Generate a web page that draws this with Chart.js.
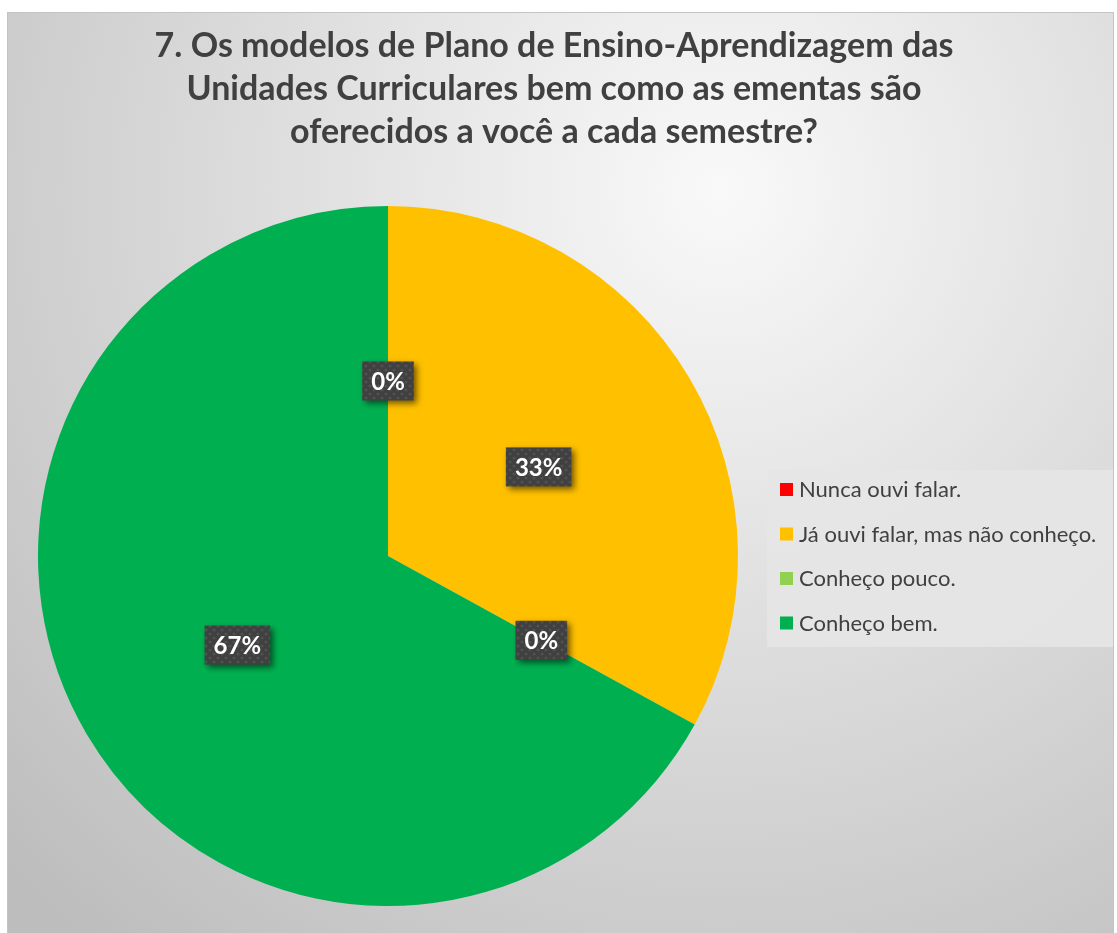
<!DOCTYPE html>
<html>
<head>
<meta charset="utf-8">
<script src="https://cdn.jsdelivr.net/npm/chart.js@4"></script>
<style>
  body { margin: 0; background: #fff; }
  #chartBox { position: absolute; left: 0; top: 0; width: 1117px; height: 933px; }
</style>
</head>
<body>
<div id="chartBox"><canvas id="pieChart" width="1117" height="933"></canvas></div>
<script>
// chart data
const titleLines = [
  '7. Os modelos de Plano de Ensino-Aprendizagem das',
  'Unidades Curriculares bem como as ementas são',
  'oferecidos a você a cada semestre?'
];
const answers = ['Nunca ouvi falar.', 'Já ouvi falar, mas não conheço.', 'Conheço pouco.', 'Conheço bem.'];
const percents = [0, 33, 0, 67];
const sliceColors = ['#FF0000', '#FFC000', '#92D050', '#00B050'];

const FONT = 'Lato, "Open Sans", sans-serif';

// background, frame and title
const framePlugin = {
  id: 'frame',
  beforeDraw(chart) {
    const ctx = chart.ctx;
    ctx.save();
    const g = ctx.createRadialGradient(720, 190, 0, 720, 190, 980);
    g.addColorStop(0, '#f9f9f9');
    g.addColorStop(1, '#bdbdbd');
    ctx.fillStyle = g;
    ctx.fillRect(8, 13, 1105, 925);
    ctx.strokeStyle = '#c4c4c4';
    ctx.lineWidth = 1;
    ctx.strokeRect(7.5, 12.5, 1106, 930);

    ctx.fillStyle = '#404040';
    ctx.font = 'bold 34px ' + FONT;
    ctx.textAlign = 'center';
    ctx.textBaseline = 'middle';
    titleLines.forEach((line, i) => {
      ctx.fillText(line, 554, 46 + i * 43);
    });
    ctx.restore();
  }
};

// small dotted pattern for the label boxes
function makePattern(ctx) {
  const c = document.createElement('canvas');
  c.width = 8; c.height = 8;
  const p = c.getContext('2d');
  p.fillStyle = '#404040';
  p.fillRect(0, 0, 8, 8);
  p.fillStyle = 'rgba(255,255,255,0.09)';
  p.beginPath(); p.arc(2, 2, 1.6, 0, Math.PI * 2); p.fill();
  p.beginPath(); p.arc(6, 6, 1.6, 0, Math.PI * 2); p.fill();
  return ctx.createPattern(c, 'repeat');
}

// percentage labels and the legend box
const labelPlugin = {
  id: 'sliceLabels',
  afterDraw(chart) {
    const ctx = chart.ctx;
    const meta = chart.getDatasetMeta(0);
    const pattern = makePattern(ctx);
    ctx.save();
    ctx.font = 'bold 24px ' + FONT;
    ctx.textAlign = 'center';
    ctx.textBaseline = 'middle';
    meta.data.forEach((arc, i) => {
      const pos = arc.tooltipPosition();
      const text = percents[i] + '%';
      const w = ctx.measureText(text).width + 18;
      const h = 39;
      ctx.save();
      ctx.shadowColor = 'rgba(0,0,0,0.55)';
      ctx.shadowBlur = 6;
      ctx.shadowOffsetX = 3;
      ctx.shadowOffsetY = 3;
      ctx.fillStyle = pattern;
      ctx.fillRect(pos.x - w / 2, pos.y - h / 2, w, h);
      ctx.restore();
      ctx.fillStyle = '#ffffff';
      ctx.fillText(text, pos.x, pos.y + 1);
    });

    // legend
    ctx.fillStyle = 'rgba(230,230,230,0.9)';
    ctx.fillRect(767, 470, 346, 177);
    ctx.font = '22px ' + FONT;
    ctx.textAlign = 'left';
    answers.forEach((name, i) => {
      const y = 490 + i * 44.5;
      ctx.fillStyle = sliceColors[i];
      ctx.fillRect(780, y - 7, 13, 13);
      ctx.fillStyle = '#404040';
      ctx.fillText(name, 799, y);
    });
    ctx.restore();
  }
};

new Chart(document.getElementById('pieChart'), {
  type: 'pie',
  data: {
    labels: answers,
    datasets: [{
      data: percents,
      backgroundColor: sliceColors,
      borderWidth: 0
    }]
  },
  options: {
    responsive: false,
    animation: false,
    layout: { padding: { left: 38, right: 379, top: 206, bottom: 27 } },
    plugins: {
      legend: { display: false },
      title: { display: false },
      tooltip: { enabled: false }
    }
  },
  plugins: [framePlugin, labelPlugin]
});
</script>
</body>
</html>
